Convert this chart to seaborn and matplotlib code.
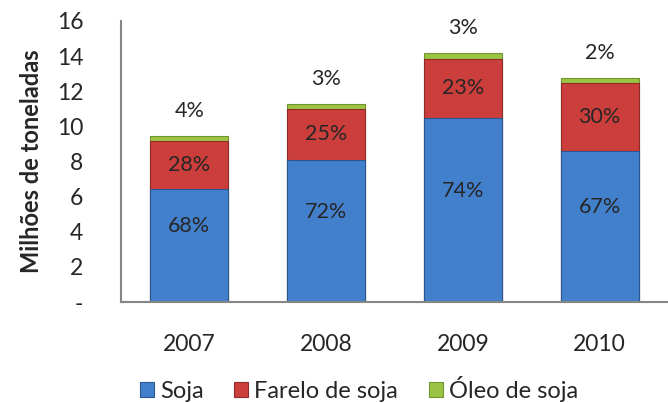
import matplotlib
matplotlib.use("Agg")
import matplotlib.pyplot as plt
import pandas as pd
import seaborn as sns
from matplotlib.patches import Patch

# data (million tonnes)
years = ["2007", "2008", "2009", "2010"]
soja = [6.44, 8.09, 10.48, 8.60]
farelo = [2.73, 2.91, 3.37, 3.88]
oleo = [0.29, 0.28, 0.34, 0.28]

soja_pct = ["68%", "72%", "74%", "67%"]
farelo_pct = ["28%", "25%", "23%", "30%"]
oleo_pct = ["4%", "3%", "3%", "2%"]

series_names = ["Soja", "Farelo de soja", "Óleo de soja"]
colors = ["#4380CC", "#CC3E3B", "#9CC444"]
edges = ["#2B5791", "#8E2A28", "#6F9530"]

df = pd.DataFrame({"year": years, "soja": soja, "farelo": farelo, "oleo": oleo})
df["top_farelo"] = df["soja"] + df["farelo"]
df["top_oleo"] = df["top_farelo"] + df["oleo"]

sns.set_style("white")
plt.rcParams["font.family"] = ["Lato", "DejaVu Sans"]

fig = plt.figure(figsize=(6.68, 4.03), dpi=100)
ax = fig.add_axes([0.181, 0.2506, 0.819, 0.6974])

# stacked look: draw cumulative totals, tallest first
for col, c, e in [("top_oleo", colors[2], edges[2]),
                  ("top_farelo", colors[1], edges[1]),
                  ("soja", colors[0], edges[0])]:
    sns.barplot(data=df, x="year", y=col, color=c, width=0.57,
                saturation=1, edgecolor=e, linewidth=0.8, ax=ax)

# segment labels
for i in range(len(years)):
    ax.annotate(soja_pct[i], (i, df["soja"][i] / 2), xytext=(0, 14),
                textcoords="offset points", ha="center", va="center", fontsize=15.5)
    ax.annotate(farelo_pct[i], (i, df["soja"][i] + df["farelo"][i] / 2),
                ha="center", va="center", fontsize=15.5)
    ax.annotate(oleo_pct[i], (i, df["top_oleo"][i]), xytext=(0, 18),
                textcoords="offset points", ha="center", va="center", fontsize=15.5)

ax.set_xlim(-0.5, 3.5)
ax.set_ylim(0, 16)
ax.set_yticks(range(0, 17, 2))
ax.set_yticklabels(["-"] + [str(v) for v in range(2, 17, 2)])
ax.tick_params(axis="y", length=0, pad=27, labelsize=16.5)
ax.tick_params(axis="x", length=0, pad=23, labelsize=16.5)
ax.set_xlabel("")
ax.set_ylabel("Milhões de toneladas", fontsize=17, fontweight="bold", labelpad=10)

for side in ["top", "right"]:
    ax.spines[side].set_visible(False)
for side in ["left", "bottom"]:
    ax.spines[side].set_color("#868686")
    ax.spines[side].set_linewidth(1.5)

handles = [Patch(facecolor=c, edgecolor=e, linewidth=0.8) for c, e in zip(colors, edges)]
fig.legend(handles, series_names, loc="center", bbox_to_anchor=(0.537, 0.035),
           ncol=3, frameon=False, fontsize=17, handlelength=0.6, handleheight=0.6,
           handletextpad=0.25, columnspacing=1.3)

fig.savefig("out.png", dpi=100)
